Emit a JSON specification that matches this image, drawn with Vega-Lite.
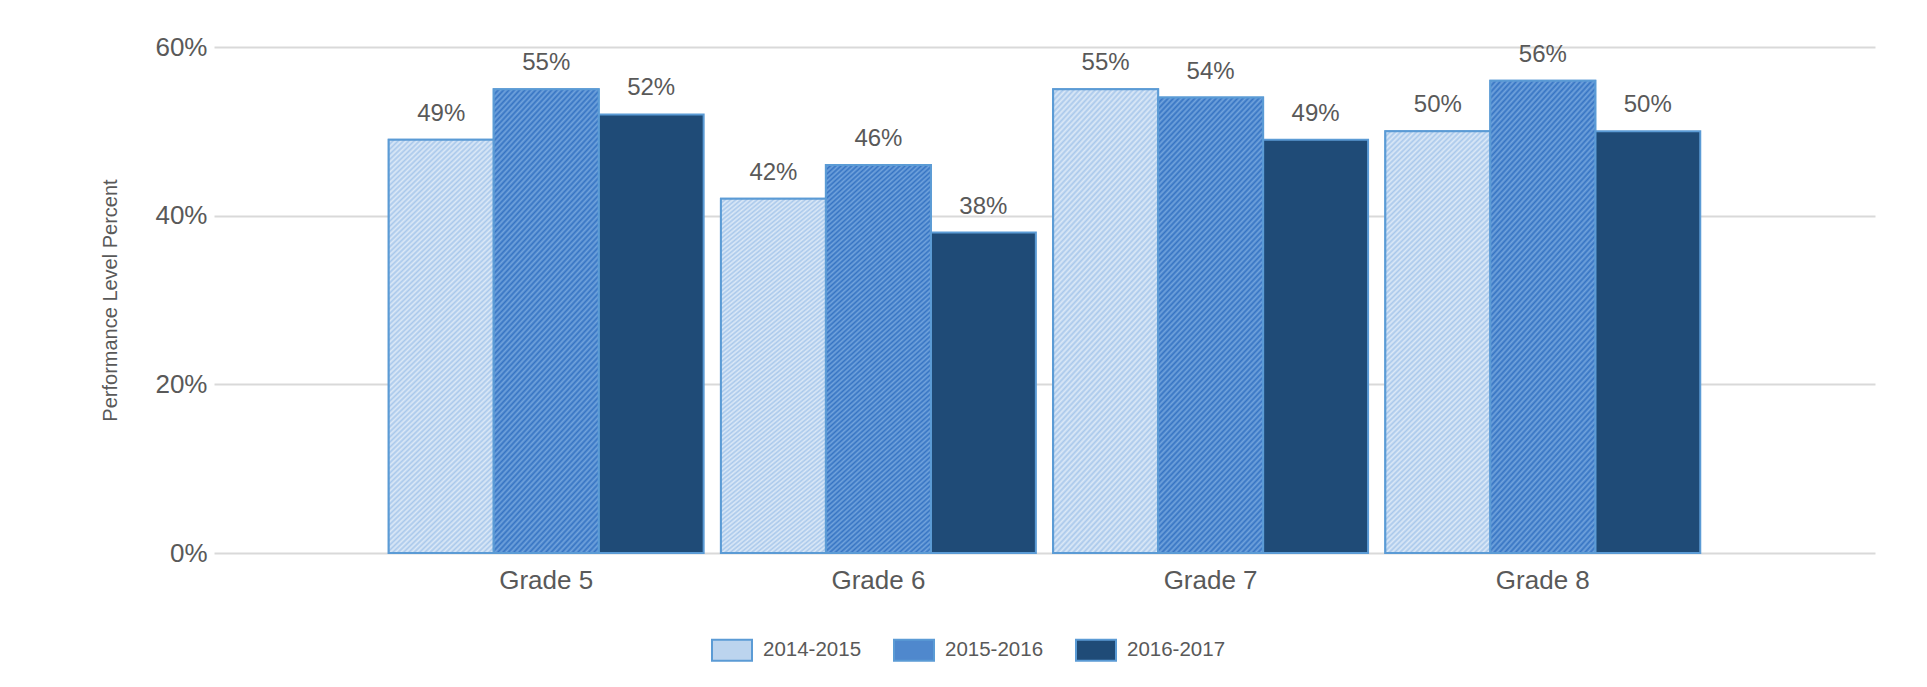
{
  "$schema": "https://vega.github.io/schema/vega-lite/v6.json",
  "width": 1661,
  "height": 506,
  "autosize": {"type": "none"},
  "padding": {"left": 214, "top": 47, "right": 52, "bottom": 134},
  "background": "white",
  "config": {
    "view": {"stroke": null},
    "font": "Liberation Sans",
    "axis": {"labelColor": "#595959", "titleColor": "#595959", "labelFont": "Liberation Sans", "titleFont": "Liberation Sans"}
  },
  "data": {
    "values": [
      {"grade": "Grade 5", "year": "2014-2015", "pct": 0.49},
      {"grade": "Grade 5", "year": "2015-2016", "pct": 0.55},
      {"grade": "Grade 5", "year": "2016-2017", "pct": 0.52},
      {"grade": "Grade 6", "year": "2014-2015", "pct": 0.42},
      {"grade": "Grade 6", "year": "2015-2016", "pct": 0.46},
      {"grade": "Grade 6", "year": "2016-2017", "pct": 0.38},
      {"grade": "Grade 7", "year": "2014-2015", "pct": 0.55},
      {"grade": "Grade 7", "year": "2015-2016", "pct": 0.54},
      {"grade": "Grade 7", "year": "2016-2017", "pct": 0.49},
      {"grade": "Grade 8", "year": "2014-2015", "pct": 0.50},
      {"grade": "Grade 8", "year": "2015-2016", "pct": 0.56},
      {"grade": "Grade 8", "year": "2016-2017", "pct": 0.50}
    ]
  },
  "encoding": {
    "x": {
      "field": "grade", "type": "nominal", "sort": null,
      "scale": {"domain": ["Grade 5", "Grade 6", "Grade 7", "Grade 8"], "paddingInner": 0.052, "paddingOuter": 0.526},
      "axis": {"title": null, "domain": false, "ticks": false, "labelAngle": 0, "labelFontSize": 26, "labelPadding": 14}
    },
    "xOffset": {"field": "year", "type": "nominal", "sort": null, "scale": {"domain": ["2014-2015", "2015-2016", "2016-2017"], "paddingInner": 0, "paddingOuter": 0}},
    "y": {
      "field": "pct", "type": "quantitative",
      "scale": {"domain": [0, 0.6], "nice": false},
      "axis": {
        "title": "Performance Level Percent", "titleFontSize": 20, "titleFontWeight": "normal", "titlePadding": 34,
        "values": [0, 0.2, 0.4, 0.6], "format": ".0%", "labelFontSize": 26, "labelPadding": 7,
        "domain": false, "ticks": false, "grid": true, "gridColor": "#d9d9d9", "gridWidth": 2
      }
    }
  },
  "layer": [
    {
      "mark": {"type": "bar", "stroke": "#5b9bd5", "strokeWidth": 2},
      "encoding": {
        "color": {
          "field": "year", "type": "nominal", "sort": null,
          "scale": {"domain": ["2014-2015", "2015-2016", "2016-2017"], "range": ["#bcd4ee", "#4f88cd", "#1f4b77"]},
          "legend": {
            "title": null, "orient": "none", "legendX": 497, "legendY": 582, "direction": "horizontal",
            "symbolType": "M-1,-0.525H1V0.525H-1Z", "symbolSize": 1600, "symbolStrokeColor": "#5b9bd5", "symbolStrokeWidth": 2,
            "symbolOpacity": 1, "labelFontSize": 20.5, "labelColor": "#595959", "labelFont": "Liberation Sans",
            "labelOffset": 10, "columnPadding": 28
          }
        }
      }
    },
    {
      "transform": [{"filter": "datum.year === '2014-2015'"}],
      "mark": {"type": "bar", "stroke": "#5b9bd5", "strokeWidth": 2,
        "fill": {"gradient": "linear", "x1": 0, "y1": 0, "x2": 0.287, "y2": 1.174, "stops": [
              {"offset":0,"color":"#a9c8eb"},{"offset":0.005,"color":"#dce9f7"},{"offset":0.01,"color":"#a9c8eb"},{"offset":0.015,"color":"#dce9f7"},{"offset":0.02,"color":"#a9c8eb"},{"offset":0.025,"color":"#dce9f7"},{"offset":0.03,"color":"#a9c8eb"},{"offset":0.035,"color":"#dce9f7"},{"offset":0.04,"color":"#a9c8eb"},{"offset":0.045,"color":"#dce9f7"},
              {"offset":0.05,"color":"#a9c8eb"},{"offset":0.055,"color":"#dce9f7"},{"offset":0.06,"color":"#a9c8eb"},{"offset":0.065,"color":"#dce9f7"},{"offset":0.07,"color":"#a9c8eb"},{"offset":0.075,"color":"#dce9f7"},{"offset":0.08,"color":"#a9c8eb"},{"offset":0.085,"color":"#dce9f7"},{"offset":0.09,"color":"#a9c8eb"},{"offset":0.095,"color":"#dce9f7"},
              {"offset":0.1,"color":"#a9c8eb"},{"offset":0.105,"color":"#dce9f7"},{"offset":0.11,"color":"#a9c8eb"},{"offset":0.115,"color":"#dce9f7"},{"offset":0.12,"color":"#a9c8eb"},{"offset":0.125,"color":"#dce9f7"},{"offset":0.13,"color":"#a9c8eb"},{"offset":0.135,"color":"#dce9f7"},{"offset":0.14,"color":"#a9c8eb"},{"offset":0.145,"color":"#dce9f7"},
              {"offset":0.15,"color":"#a9c8eb"},{"offset":0.155,"color":"#dce9f7"},{"offset":0.16,"color":"#a9c8eb"},{"offset":0.165,"color":"#dce9f7"},{"offset":0.17,"color":"#a9c8eb"},{"offset":0.175,"color":"#dce9f7"},{"offset":0.18,"color":"#a9c8eb"},{"offset":0.185,"color":"#dce9f7"},{"offset":0.19,"color":"#a9c8eb"},{"offset":0.195,"color":"#dce9f7"},
              {"offset":0.2,"color":"#a9c8eb"},{"offset":0.205,"color":"#dce9f7"},{"offset":0.21,"color":"#a9c8eb"},{"offset":0.215,"color":"#dce9f7"},{"offset":0.22,"color":"#a9c8eb"},{"offset":0.225,"color":"#dce9f7"},{"offset":0.23,"color":"#a9c8eb"},{"offset":0.235,"color":"#dce9f7"},{"offset":0.24,"color":"#a9c8eb"},{"offset":0.245,"color":"#dce9f7"},
              {"offset":0.25,"color":"#a9c8eb"},{"offset":0.255,"color":"#dce9f7"},{"offset":0.26,"color":"#a9c8eb"},{"offset":0.265,"color":"#dce9f7"},{"offset":0.27,"color":"#a9c8eb"},{"offset":0.275,"color":"#dce9f7"},{"offset":0.28,"color":"#a9c8eb"},{"offset":0.285,"color":"#dce9f7"},{"offset":0.29,"color":"#a9c8eb"},{"offset":0.295,"color":"#dce9f7"},
              {"offset":0.3,"color":"#a9c8eb"},{"offset":0.305,"color":"#dce9f7"},{"offset":0.31,"color":"#a9c8eb"},{"offset":0.315,"color":"#dce9f7"},{"offset":0.32,"color":"#a9c8eb"},{"offset":0.325,"color":"#dce9f7"},{"offset":0.33,"color":"#a9c8eb"},{"offset":0.335,"color":"#dce9f7"},{"offset":0.34,"color":"#a9c8eb"},{"offset":0.345,"color":"#dce9f7"},
              {"offset":0.35,"color":"#a9c8eb"},{"offset":0.355,"color":"#dce9f7"},{"offset":0.36,"color":"#a9c8eb"},{"offset":0.365,"color":"#dce9f7"},{"offset":0.37,"color":"#a9c8eb"},{"offset":0.375,"color":"#dce9f7"},{"offset":0.38,"color":"#a9c8eb"},{"offset":0.385,"color":"#dce9f7"},{"offset":0.39,"color":"#a9c8eb"},{"offset":0.395,"color":"#dce9f7"},
              {"offset":0.4,"color":"#a9c8eb"},{"offset":0.405,"color":"#dce9f7"},{"offset":0.41,"color":"#a9c8eb"},{"offset":0.415,"color":"#dce9f7"},{"offset":0.42,"color":"#a9c8eb"},{"offset":0.425,"color":"#dce9f7"},{"offset":0.43,"color":"#a9c8eb"},{"offset":0.435,"color":"#dce9f7"},{"offset":0.44,"color":"#a9c8eb"},{"offset":0.445,"color":"#dce9f7"},
              {"offset":0.45,"color":"#a9c8eb"},{"offset":0.455,"color":"#dce9f7"},{"offset":0.46,"color":"#a9c8eb"},{"offset":0.465,"color":"#dce9f7"},{"offset":0.47,"color":"#a9c8eb"},{"offset":0.475,"color":"#dce9f7"},{"offset":0.48,"color":"#a9c8eb"},{"offset":0.485,"color":"#dce9f7"},{"offset":0.49,"color":"#a9c8eb"},{"offset":0.495,"color":"#dce9f7"},
              {"offset":0.5,"color":"#a9c8eb"},{"offset":0.505,"color":"#dce9f7"},{"offset":0.51,"color":"#a9c8eb"},{"offset":0.515,"color":"#dce9f7"},{"offset":0.52,"color":"#a9c8eb"},{"offset":0.525,"color":"#dce9f7"},{"offset":0.53,"color":"#a9c8eb"},{"offset":0.535,"color":"#dce9f7"},{"offset":0.54,"color":"#a9c8eb"},{"offset":0.545,"color":"#dce9f7"},
              {"offset":0.55,"color":"#a9c8eb"},{"offset":0.555,"color":"#dce9f7"},{"offset":0.56,"color":"#a9c8eb"},{"offset":0.565,"color":"#dce9f7"},{"offset":0.57,"color":"#a9c8eb"},{"offset":0.575,"color":"#dce9f7"},{"offset":0.58,"color":"#a9c8eb"},{"offset":0.585,"color":"#dce9f7"},{"offset":0.59,"color":"#a9c8eb"},{"offset":0.595,"color":"#dce9f7"},
              {"offset":0.6,"color":"#a9c8eb"},{"offset":0.605,"color":"#dce9f7"},{"offset":0.61,"color":"#a9c8eb"},{"offset":0.615,"color":"#dce9f7"},{"offset":0.62,"color":"#a9c8eb"},{"offset":0.625,"color":"#dce9f7"},{"offset":0.63,"color":"#a9c8eb"},{"offset":0.635,"color":"#dce9f7"},{"offset":0.64,"color":"#a9c8eb"},{"offset":0.645,"color":"#dce9f7"},
              {"offset":0.65,"color":"#a9c8eb"},{"offset":0.655,"color":"#dce9f7"},{"offset":0.66,"color":"#a9c8eb"},{"offset":0.665,"color":"#dce9f7"},{"offset":0.67,"color":"#a9c8eb"},{"offset":0.675,"color":"#dce9f7"},{"offset":0.68,"color":"#a9c8eb"},{"offset":0.685,"color":"#dce9f7"},{"offset":0.69,"color":"#a9c8eb"},{"offset":0.695,"color":"#dce9f7"},
              {"offset":0.7,"color":"#a9c8eb"},{"offset":0.705,"color":"#dce9f7"},{"offset":0.71,"color":"#a9c8eb"},{"offset":0.715,"color":"#dce9f7"},{"offset":0.72,"color":"#a9c8eb"},{"offset":0.725,"color":"#dce9f7"},{"offset":0.73,"color":"#a9c8eb"},{"offset":0.735,"color":"#dce9f7"},{"offset":0.74,"color":"#a9c8eb"},{"offset":0.745,"color":"#dce9f7"},
              {"offset":0.75,"color":"#a9c8eb"},{"offset":0.755,"color":"#dce9f7"},{"offset":0.76,"color":"#a9c8eb"},{"offset":0.765,"color":"#dce9f7"},{"offset":0.77,"color":"#a9c8eb"},{"offset":0.775,"color":"#dce9f7"},{"offset":0.78,"color":"#a9c8eb"},{"offset":0.785,"color":"#dce9f7"},{"offset":0.79,"color":"#a9c8eb"},{"offset":0.795,"color":"#dce9f7"},
              {"offset":0.8,"color":"#a9c8eb"},{"offset":0.805,"color":"#dce9f7"},{"offset":0.81,"color":"#a9c8eb"},{"offset":0.815,"color":"#dce9f7"},{"offset":0.82,"color":"#a9c8eb"},{"offset":0.825,"color":"#dce9f7"},{"offset":0.83,"color":"#a9c8eb"},{"offset":0.835,"color":"#dce9f7"},{"offset":0.84,"color":"#a9c8eb"},{"offset":0.845,"color":"#dce9f7"},
              {"offset":0.85,"color":"#a9c8eb"},{"offset":0.855,"color":"#dce9f7"},{"offset":0.86,"color":"#a9c8eb"},{"offset":0.865,"color":"#dce9f7"},{"offset":0.87,"color":"#a9c8eb"},{"offset":0.875,"color":"#dce9f7"},{"offset":0.88,"color":"#a9c8eb"},{"offset":0.885,"color":"#dce9f7"},{"offset":0.89,"color":"#a9c8eb"},{"offset":0.895,"color":"#dce9f7"},
              {"offset":0.9,"color":"#a9c8eb"},{"offset":0.905,"color":"#dce9f7"},{"offset":0.91,"color":"#a9c8eb"},{"offset":0.915,"color":"#dce9f7"},{"offset":0.92,"color":"#a9c8eb"},{"offset":0.925,"color":"#dce9f7"},{"offset":0.93,"color":"#a9c8eb"},{"offset":0.935,"color":"#dce9f7"},{"offset":0.94,"color":"#a9c8eb"},{"offset":0.945,"color":"#dce9f7"},
              {"offset":0.95,"color":"#a9c8eb"},{"offset":0.955,"color":"#dce9f7"},{"offset":0.96,"color":"#a9c8eb"},{"offset":0.965,"color":"#dce9f7"},{"offset":0.97,"color":"#a9c8eb"},{"offset":0.975,"color":"#dce9f7"},{"offset":0.98,"color":"#a9c8eb"},{"offset":0.985,"color":"#dce9f7"},{"offset":0.99,"color":"#a9c8eb"},{"offset":0.995,"color":"#dce9f7"},
              {"offset":1,"color":"#a9c8eb"}
            ]}
      },
      "encoding": {}
    },
    {
      "transform": [{"filter": "datum.year === '2015-2016'"}],
      "mark": {"type": "bar", "stroke": "#5b9bd5", "strokeWidth": 2,
        "fill": {"gradient": "linear", "x1": 0, "y1": 0, "x2": 0.287, "y2": 1.174, "stops": [
              {"offset":0,"color":"#3674c3"},{"offset":0.005,"color":"#72a4dd"},{"offset":0.01,"color":"#3674c3"},{"offset":0.015,"color":"#72a4dd"},{"offset":0.02,"color":"#3674c3"},{"offset":0.025,"color":"#72a4dd"},{"offset":0.03,"color":"#3674c3"},{"offset":0.035,"color":"#72a4dd"},{"offset":0.04,"color":"#3674c3"},{"offset":0.045,"color":"#72a4dd"},
              {"offset":0.05,"color":"#3674c3"},{"offset":0.055,"color":"#72a4dd"},{"offset":0.06,"color":"#3674c3"},{"offset":0.065,"color":"#72a4dd"},{"offset":0.07,"color":"#3674c3"},{"offset":0.075,"color":"#72a4dd"},{"offset":0.08,"color":"#3674c3"},{"offset":0.085,"color":"#72a4dd"},{"offset":0.09,"color":"#3674c3"},{"offset":0.095,"color":"#72a4dd"},
              {"offset":0.1,"color":"#3674c3"},{"offset":0.105,"color":"#72a4dd"},{"offset":0.11,"color":"#3674c3"},{"offset":0.115,"color":"#72a4dd"},{"offset":0.12,"color":"#3674c3"},{"offset":0.125,"color":"#72a4dd"},{"offset":0.13,"color":"#3674c3"},{"offset":0.135,"color":"#72a4dd"},{"offset":0.14,"color":"#3674c3"},{"offset":0.145,"color":"#72a4dd"},
              {"offset":0.15,"color":"#3674c3"},{"offset":0.155,"color":"#72a4dd"},{"offset":0.16,"color":"#3674c3"},{"offset":0.165,"color":"#72a4dd"},{"offset":0.17,"color":"#3674c3"},{"offset":0.175,"color":"#72a4dd"},{"offset":0.18,"color":"#3674c3"},{"offset":0.185,"color":"#72a4dd"},{"offset":0.19,"color":"#3674c3"},{"offset":0.195,"color":"#72a4dd"},
              {"offset":0.2,"color":"#3674c3"},{"offset":0.205,"color":"#72a4dd"},{"offset":0.21,"color":"#3674c3"},{"offset":0.215,"color":"#72a4dd"},{"offset":0.22,"color":"#3674c3"},{"offset":0.225,"color":"#72a4dd"},{"offset":0.23,"color":"#3674c3"},{"offset":0.235,"color":"#72a4dd"},{"offset":0.24,"color":"#3674c3"},{"offset":0.245,"color":"#72a4dd"},
              {"offset":0.25,"color":"#3674c3"},{"offset":0.255,"color":"#72a4dd"},{"offset":0.26,"color":"#3674c3"},{"offset":0.265,"color":"#72a4dd"},{"offset":0.27,"color":"#3674c3"},{"offset":0.275,"color":"#72a4dd"},{"offset":0.28,"color":"#3674c3"},{"offset":0.285,"color":"#72a4dd"},{"offset":0.29,"color":"#3674c3"},{"offset":0.295,"color":"#72a4dd"},
              {"offset":0.3,"color":"#3674c3"},{"offset":0.305,"color":"#72a4dd"},{"offset":0.31,"color":"#3674c3"},{"offset":0.315,"color":"#72a4dd"},{"offset":0.32,"color":"#3674c3"},{"offset":0.325,"color":"#72a4dd"},{"offset":0.33,"color":"#3674c3"},{"offset":0.335,"color":"#72a4dd"},{"offset":0.34,"color":"#3674c3"},{"offset":0.345,"color":"#72a4dd"},
              {"offset":0.35,"color":"#3674c3"},{"offset":0.355,"color":"#72a4dd"},{"offset":0.36,"color":"#3674c3"},{"offset":0.365,"color":"#72a4dd"},{"offset":0.37,"color":"#3674c3"},{"offset":0.375,"color":"#72a4dd"},{"offset":0.38,"color":"#3674c3"},{"offset":0.385,"color":"#72a4dd"},{"offset":0.39,"color":"#3674c3"},{"offset":0.395,"color":"#72a4dd"},
              {"offset":0.4,"color":"#3674c3"},{"offset":0.405,"color":"#72a4dd"},{"offset":0.41,"color":"#3674c3"},{"offset":0.415,"color":"#72a4dd"},{"offset":0.42,"color":"#3674c3"},{"offset":0.425,"color":"#72a4dd"},{"offset":0.43,"color":"#3674c3"},{"offset":0.435,"color":"#72a4dd"},{"offset":0.44,"color":"#3674c3"},{"offset":0.445,"color":"#72a4dd"},
              {"offset":0.45,"color":"#3674c3"},{"offset":0.455,"color":"#72a4dd"},{"offset":0.46,"color":"#3674c3"},{"offset":0.465,"color":"#72a4dd"},{"offset":0.47,"color":"#3674c3"},{"offset":0.475,"color":"#72a4dd"},{"offset":0.48,"color":"#3674c3"},{"offset":0.485,"color":"#72a4dd"},{"offset":0.49,"color":"#3674c3"},{"offset":0.495,"color":"#72a4dd"},
              {"offset":0.5,"color":"#3674c3"},{"offset":0.505,"color":"#72a4dd"},{"offset":0.51,"color":"#3674c3"},{"offset":0.515,"color":"#72a4dd"},{"offset":0.52,"color":"#3674c3"},{"offset":0.525,"color":"#72a4dd"},{"offset":0.53,"color":"#3674c3"},{"offset":0.535,"color":"#72a4dd"},{"offset":0.54,"color":"#3674c3"},{"offset":0.545,"color":"#72a4dd"},
              {"offset":0.55,"color":"#3674c3"},{"offset":0.555,"color":"#72a4dd"},{"offset":0.56,"color":"#3674c3"},{"offset":0.565,"color":"#72a4dd"},{"offset":0.57,"color":"#3674c3"},{"offset":0.575,"color":"#72a4dd"},{"offset":0.58,"color":"#3674c3"},{"offset":0.585,"color":"#72a4dd"},{"offset":0.59,"color":"#3674c3"},{"offset":0.595,"color":"#72a4dd"},
              {"offset":0.6,"color":"#3674c3"},{"offset":0.605,"color":"#72a4dd"},{"offset":0.61,"color":"#3674c3"},{"offset":0.615,"color":"#72a4dd"},{"offset":0.62,"color":"#3674c3"},{"offset":0.625,"color":"#72a4dd"},{"offset":0.63,"color":"#3674c3"},{"offset":0.635,"color":"#72a4dd"},{"offset":0.64,"color":"#3674c3"},{"offset":0.645,"color":"#72a4dd"},
              {"offset":0.65,"color":"#3674c3"},{"offset":0.655,"color":"#72a4dd"},{"offset":0.66,"color":"#3674c3"},{"offset":0.665,"color":"#72a4dd"},{"offset":0.67,"color":"#3674c3"},{"offset":0.675,"color":"#72a4dd"},{"offset":0.68,"color":"#3674c3"},{"offset":0.685,"color":"#72a4dd"},{"offset":0.69,"color":"#3674c3"},{"offset":0.695,"color":"#72a4dd"},
              {"offset":0.7,"color":"#3674c3"},{"offset":0.705,"color":"#72a4dd"},{"offset":0.71,"color":"#3674c3"},{"offset":0.715,"color":"#72a4dd"},{"offset":0.72,"color":"#3674c3"},{"offset":0.725,"color":"#72a4dd"},{"offset":0.73,"color":"#3674c3"},{"offset":0.735,"color":"#72a4dd"},{"offset":0.74,"color":"#3674c3"},{"offset":0.745,"color":"#72a4dd"},
              {"offset":0.75,"color":"#3674c3"},{"offset":0.755,"color":"#72a4dd"},{"offset":0.76,"color":"#3674c3"},{"offset":0.765,"color":"#72a4dd"},{"offset":0.77,"color":"#3674c3"},{"offset":0.775,"color":"#72a4dd"},{"offset":0.78,"color":"#3674c3"},{"offset":0.785,"color":"#72a4dd"},{"offset":0.79,"color":"#3674c3"},{"offset":0.795,"color":"#72a4dd"},
              {"offset":0.8,"color":"#3674c3"},{"offset":0.805,"color":"#72a4dd"},{"offset":0.81,"color":"#3674c3"},{"offset":0.815,"color":"#72a4dd"},{"offset":0.82,"color":"#3674c3"},{"offset":0.825,"color":"#72a4dd"},{"offset":0.83,"color":"#3674c3"},{"offset":0.835,"color":"#72a4dd"},{"offset":0.84,"color":"#3674c3"},{"offset":0.845,"color":"#72a4dd"},
              {"offset":0.85,"color":"#3674c3"},{"offset":0.855,"color":"#72a4dd"},{"offset":0.86,"color":"#3674c3"},{"offset":0.865,"color":"#72a4dd"},{"offset":0.87,"color":"#3674c3"},{"offset":0.875,"color":"#72a4dd"},{"offset":0.88,"color":"#3674c3"},{"offset":0.885,"color":"#72a4dd"},{"offset":0.89,"color":"#3674c3"},{"offset":0.895,"color":"#72a4dd"},
              {"offset":0.9,"color":"#3674c3"},{"offset":0.905,"color":"#72a4dd"},{"offset":0.91,"color":"#3674c3"},{"offset":0.915,"color":"#72a4dd"},{"offset":0.92,"color":"#3674c3"},{"offset":0.925,"color":"#72a4dd"},{"offset":0.93,"color":"#3674c3"},{"offset":0.935,"color":"#72a4dd"},{"offset":0.94,"color":"#3674c3"},{"offset":0.945,"color":"#72a4dd"},
              {"offset":0.95,"color":"#3674c3"},{"offset":0.955,"color":"#72a4dd"},{"offset":0.96,"color":"#3674c3"},{"offset":0.965,"color":"#72a4dd"},{"offset":0.97,"color":"#3674c3"},{"offset":0.975,"color":"#72a4dd"},{"offset":0.98,"color":"#3674c3"},{"offset":0.985,"color":"#72a4dd"},{"offset":0.99,"color":"#3674c3"},{"offset":0.995,"color":"#72a4dd"},
              {"offset":1,"color":"#3674c3"}
            ]}
      },
      "encoding": {}
    },
    {
      "mark": {"type": "text", "dy": -19, "baseline": "alphabetic", "fontSize": 24, "color": "#595959", "font": "Liberation Sans"},
      "encoding": {"text": {"field": "pct", "type": "quantitative", "format": ".0%"}}
    }
  ]
}
